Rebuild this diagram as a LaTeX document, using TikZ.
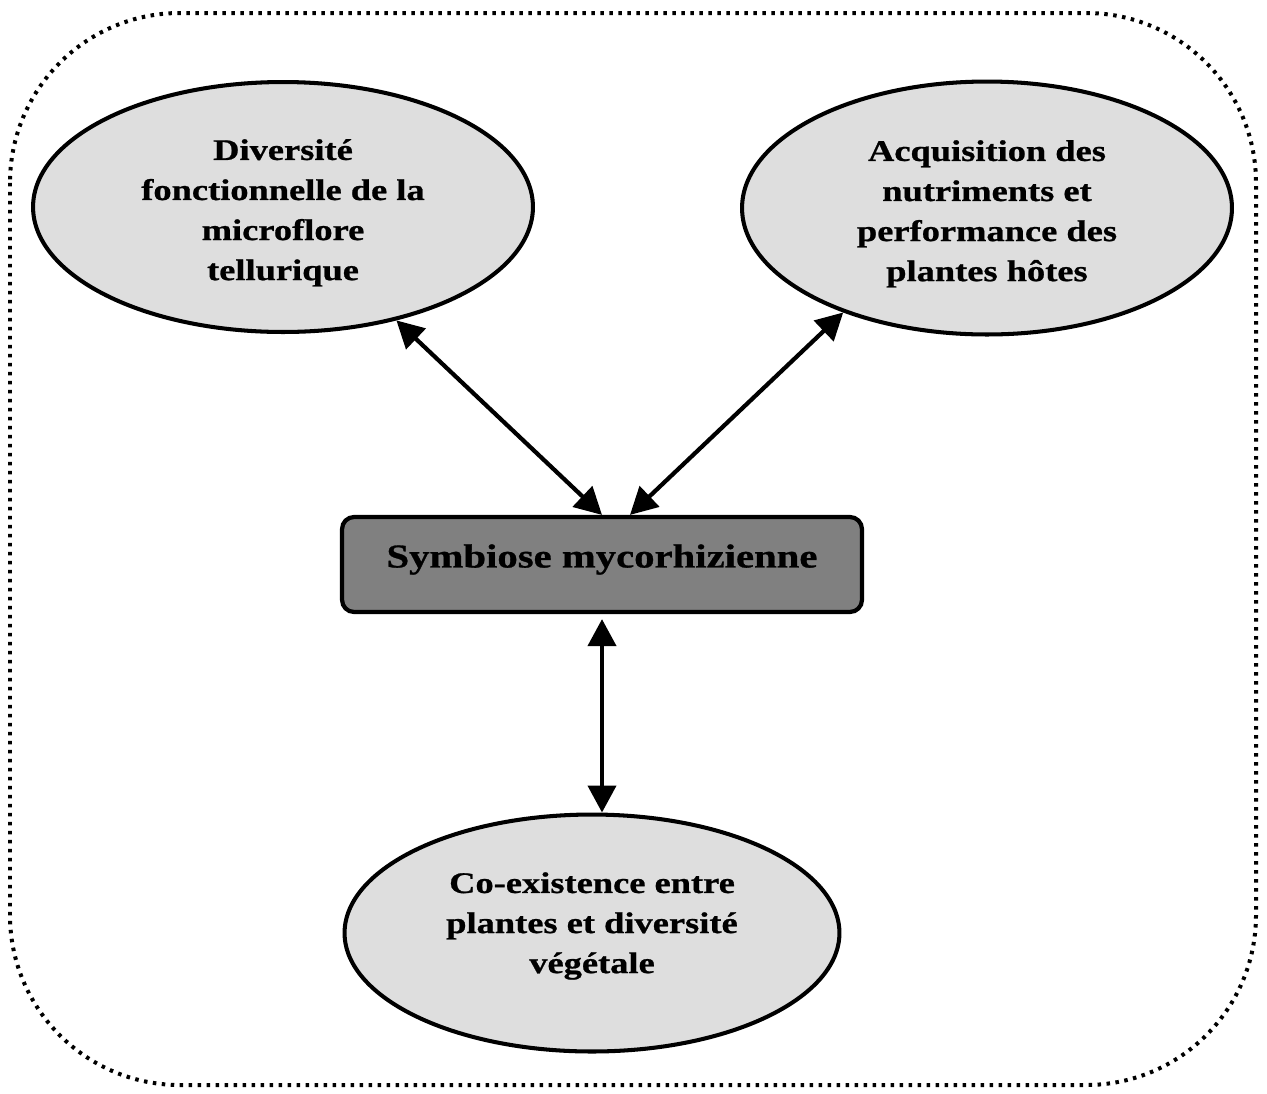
\documentclass[tikz,border=0pt]{standalone}
\usepackage{fontspec}
\setmainfont{Liberation Serif}[FakeStretch=1.22,BoldFeatures={FakeBold=0.8}]
\usetikzlibrary{arrows.meta,shapes.geometric}
\definecolor{bubfill}{RGB}{222,222,222}
\definecolor{corefill}{RGB}{128,128,128}
\newcommand{\liftlines}[2]{\raisebox{#1}[\height][\depth]{\begin{tabular}{@{}c@{}}#2\end{tabular}}}
\begin{document}
\begin{tikzpicture}[x=0.02cm,y=-0.02cm,
  bub/.style={ellipse,draw,line width=2.3pt,fill=bubfill,inner sep=0pt,align=center,
    font=\fontsize{17}{22.8}\selectfont\bfseries},
  core/.style={rectangle,rounded corners=0.24cm,draw,line width=2.4pt,fill=corefill,
    minimum width=10.4cm,minimum height=1.9cm,inner sep=0pt,
    font=\fontsize{19}{22}\selectfont\bfseries},
  link/.style={{Triangle[length=0.54cm,width=0.56cm]}-{Triangle[length=0.54cm,width=0.56cm]},line width=2.4pt},
  frame/.style={line width=0.08cm,dash pattern=on 0.07cm off 0.11cm,rounded corners=3.4cm}]
\useasboundingbox (0,0) rectangle (1267,1093);
\draw[frame] (10,13) rectangle (1256,1085);
\node[bub,minimum width=10cm,minimum height=5cm] (e1) at (283,207)
  {\liftlines{-0.1cm}{Diversité\\fonctionnelle de la\\microflore\\tellurique}};
\node[bub,minimum width=9.8cm,minimum height=5.06cm] (e2) at (987,208)
  {\liftlines{-0.1cm}{Acquisition des\\nutriments et\\performance des\\plantes hôtes}};
\node[core] (core) at (602,564.5) {\raisebox{0.1cm}[\height][\depth]{Symbiose mycorhizienne}};
\node[bub,minimum width=9.9cm,minimum height=4.74cm] (e3) at (592,933)
  {\liftlines{0.16cm}{Co-existence entre\\plantes et diversité\\végétale}};
\draw[link] (e1.-45) -- (core.north);
\draw[link] (e2.216) -- ([xshift=0.56cm]core.north);
\draw[link] ([yshift=-0.1cm]core.south) -- (e3.north -| core.south);
\end{tikzpicture}
\end{document}
